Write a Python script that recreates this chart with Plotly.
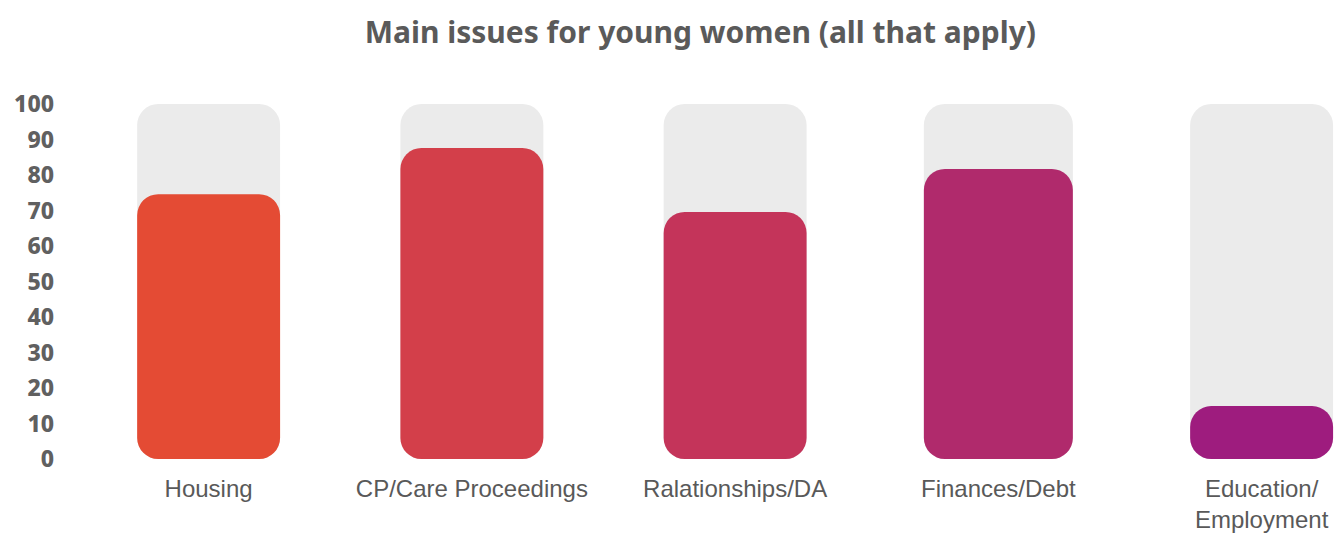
import plotly.graph_objects as go

categories = ["Housing", "CP/Care Proceedings", "Ralationships/DA", "Finances/Debt", "Education/<br>Employment"]
values = [74.6, 87.6, 69.6, 81.7, 14.9]
bar_colors = ["#E44B34", "#D33F4A", "#C4345A", "#B02A6C", "#9E1C7E"]
track_max = [100, 100, 100, 100, 100]
y_ticks = [0, 10, 20, 30, 40, 50, 60, 70, 80, 90, 100]

x_idx = list(range(len(categories)))
BW = [0.543, 0.543, 0.543, 0.566, 0.543]
CR = 21

fig = go.Figure()
# background track (bars with an explicit base get all four corners rounded)
fig.add_trace(go.Bar(x=x_idx, y=track_max, base=[0] * len(x_idx), width=BW,
                     marker=dict(color="#EBEBEB", cornerradius=CR, line=dict(width=0)),
                     hoverinfo="skip"))
# value bars
fig.add_trace(go.Bar(x=x_idx, y=values, base=[0] * len(x_idx), width=BW,
                     marker=dict(color=bar_colors, cornerradius=CR, line=dict(width=0)),
                     hovertemplate="%{y}<extra></extra>"))

fig.update_layout(
    width=1334, height=533,
    barmode="overlay",
    showlegend=False,
    plot_bgcolor="white", paper_bgcolor="white",
    margin=dict(l=77, r=0, t=104, b=74, autoexpand=False),
    title=dict(text="<b>Main issues for young women (all that apply)</b>",
               x=0.525, xref="container", xanchor="center",
               y=1 - 32 / 533, yref="container", yanchor="middle",
               font=dict(family="Noto Sans", size=30, color="#5a5a5a")),
    xaxis=dict(tickmode="array", tickvals=x_idx, ticktext=categories,
               range=[-0.5, 4.275], showgrid=False, zeroline=False, showline=False,
               ticks="", ticklabelstandoff=13, automargin=False,
               tickfont=dict(family="Liberation Sans, Arial", size=24, color="#595959")),
    yaxis=dict(range=[0, 100], tickmode="array", tickvals=y_ticks,
               showgrid=False, zeroline=False, showline=False, ticks="",
               ticklabelstandoff=22, automargin=False,
               tickfont=dict(family="Noto Sans", size=23, color="#606060", weight=800)),
)

fig.write_html("out.html")
